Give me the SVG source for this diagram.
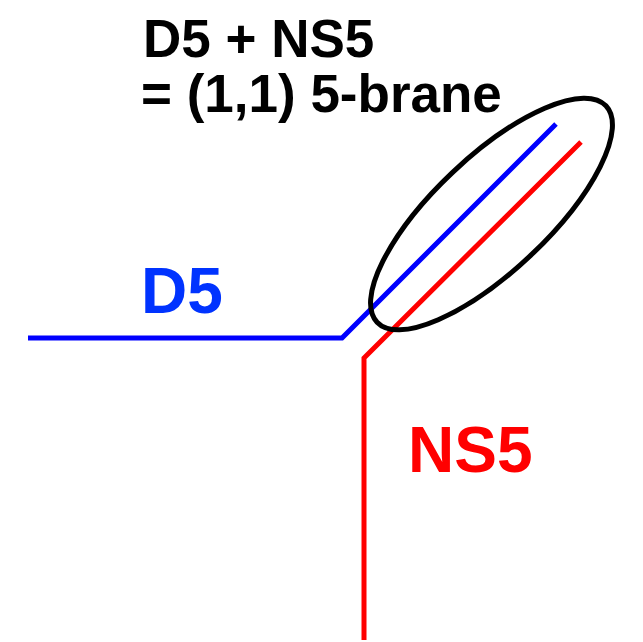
<svg xmlns="http://www.w3.org/2000/svg" width="643" height="642" viewBox="0 0 643 642">
<style>
.t{font-family:"Liberation Sans",Arial,sans-serif;font-weight:bold}
.ln{fill:none;stroke-width:5;stroke-linejoin:miter}
</style>
<rect width="643" height="642" fill="#fff"/>
<g id="connectors">
<polyline id="d5" class="ln" stroke="#0000ff" points="28,338 342,338 556,124"/>
<polyline id="ns5" class="ln" stroke="#ff0000" points="364,640 364,358 581,142"/>
</g>
<g id="ellipse">
<ellipse cx="491.5" cy="214" rx="157.5" ry="57" transform="rotate(-43.4 491.5 214)" fill="none" stroke="#000" stroke-width="5"/>
</g>
<g id="title">
<text class="t" x="143" y="57" font-size="53" fill="#000">D5 + NS5</text>
<text class="t" x="141" y="112" font-size="53" fill="#000">= (1,1) 5-brane</text>
</g>
<g id="label-d5"><text class="t" x="141" y="313" font-size="64" fill="#0033ff">D5</text></g>
<g id="label-ns5"><text class="t" x="408" y="472" font-size="64" fill="#ff0000">NS5</text></g>
</svg>
